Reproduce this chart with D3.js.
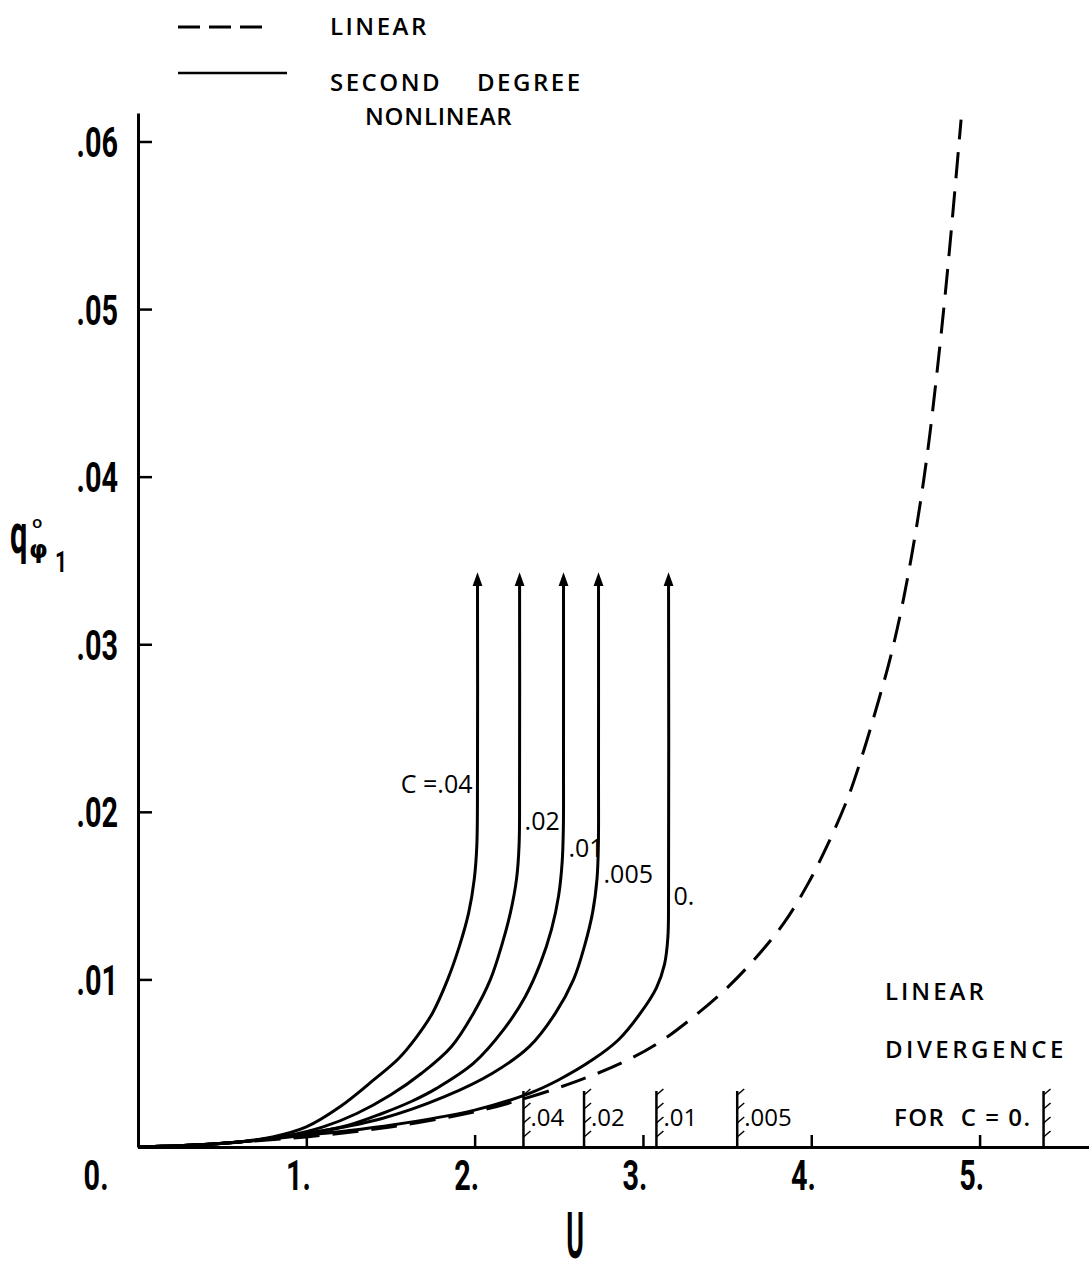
<!DOCTYPE html>
<html>
<head>
<meta charset="utf-8">
<script src="https://cdn.jsdelivr.net/npm/d3@7"></script>
<style>
  body { margin: 0; background: #fff; }
  svg { display: block; }
  text.pre { white-space: pre; }
</style>
</head>
<body>
<svg id="drawing_region"></svg>
<script>
// axis ticks
const tickU = [0, 1, 2, 3, 4, 5];
const tickQ = [0.01, 0.02, 0.03, 0.04, 0.05, 0.06];

// linear solution (dashed), [U, q]
const linearCurve = [
    [0, 0], [0.3, 0.0001], [0.6, 0.0003], [1.0, 0.0006], [1.5, 0.0012], [2.0, 0.0021],
    [2.3, 0.0029], [2.6, 0.0039], [2.87, 0.0050], [3.09, 0.0062], [3.28, 0.0076],
    [3.5, 0.0095], [3.68, 0.0114], [3.84, 0.0134], [3.98, 0.0157], [4.1, 0.0181],
    [4.22, 0.0209], [4.31, 0.0236], [4.39, 0.0263], [4.47, 0.0292], [4.55, 0.0328],
    [4.63, 0.0373], [4.69, 0.0414], [4.74, 0.0456], [4.79, 0.0503], [4.83, 0.0545],
    [4.89, 0.0613]
];

// second degree nonlinear solutions, one per damping C
const curveC04 = [
    [0, 0], [0.3, 0.0001], [0.6, 0.0003], [0.8, 0.0006], [1.0, 0.0012], [1.2, 0.0024],
    [1.4, 0.0040], [1.55, 0.0053], [1.65, 0.0065], [1.75, 0.0080], [1.84, 0.0100],
    [1.91, 0.0120], [1.965, 0.0140], [1.998, 0.0160], [2.013, 0.0180], [2.017, 0.0220],
    [2.017, 0.0340]
];
const curveC02 = [
    [0, 0], [0.3, 0.0001], [0.6, 0.0003], [0.9, 0.0007], [1.1, 0.0012], [1.3, 0.0020],
    [1.5, 0.0031], [1.685, 0.0044], [1.863, 0.0060], [1.994, 0.0080], [2.094, 0.0100],
    [2.16, 0.0120], [2.213, 0.0140], [2.249, 0.0160], [2.264, 0.0180], [2.267, 0.0220],
    [2.267, 0.0340]
];
const curveC01 = [
    [0, 0], [0.3, 0.0001], [0.6, 0.0003], [1.0, 0.0008], [1.25, 0.0013], [1.45, 0.0020],
    [1.62, 0.0027], [1.774, 0.0035], [1.994, 0.0050], [2.172, 0.0070], [2.302, 0.0090],
    [2.392, 0.0110], [2.457, 0.0130], [2.499, 0.0150], [2.52, 0.0170], [2.527, 0.0190],
    [2.528, 0.0230], [2.528, 0.0340]
];
const curveC005 = [
    [0, 0], [0.3, 0.0001], [0.6, 0.0003], [1.0, 0.0008], [1.45, 0.0017], [1.821, 0.0030],
    [2.106, 0.0044], [2.326, 0.0060], [2.481, 0.0080], [2.588, 0.0100], [2.653, 0.0120],
    [2.701, 0.0140], [2.727, 0.0160], [2.735, 0.0180], [2.736, 0.0220], [2.736, 0.0340]
];
const curveC0 = [
    [0, 0], [0.3, 0.0001], [0.6, 0.0003], [1.0, 0.0007], [1.5, 0.0013], [2.0, 0.0022],
    [2.325, 0.0032], [2.498, 0.0040], [2.7, 0.0052], [2.855, 0.0064], [2.986, 0.0080],
    [3.08, 0.0095], [3.128, 0.0109], [3.148, 0.0125], [3.152, 0.0150], [3.152, 0.0340]
];
const curveLabels = ["C =.04", ".02", ".01", ".005", "0."];

// linear divergence speeds
const divergenceU = [2.29, 2.65, 3.08, 3.56, 5.38];
const divergenceLabels = [".04", ".02", ".01", ".005", "FOR  C = 0."];

const nonlinearCurves = [curveC04, curveC02, curveC01, curveC005, curveC0];

var config = {
    parent: '#drawing_region',
    width: 1089,
    height: 1273,
    margin: {top: 113, right: 0, bottom: 126, left: 138}
};

class DivergencePlot {

    constructor( config ) {
        this.config = config;
        this.init();
    }

    init() {
        let self = this;

        self.svg = d3.select( self.config.parent )
            .attr('width', self.config.width)
            .attr('height', self.config.height);

        self.inner_width = self.config.width - self.config.margin.left - self.config.margin.right;
        self.inner_height = self.config.height - self.config.margin.top - self.config.margin.bottom;

        self.chart = self.svg.append('g')
            .attr('transform', `translate(${self.config.margin.left}, ${self.config.margin.top})`);

        self.xscale = d3.scaleLinear()
            .domain([0, 5.65])
            .range([0, self.inner_width]);

        self.yscale = d3.scaleLinear()
            .domain([0, 0.0617])
            .range([self.inner_height, 0]);

        self.line = d3.line()
            .x(d => self.xscale(d[0]))
            .y(d => self.yscale(d[1]))
            .curve(d3.curveCatmullRom.alpha(0.5));

        self.svg.append('defs').append('marker')
            .attr('id', 'arrow')
            .attr('viewBox', '0 -6 14 12')
            .attr('refX', 9)
            .attr('refY', 0)
            .attr('markerWidth', 14)
            .attr('markerHeight', 12)
            .attr('markerUnits', 'userSpaceOnUse')
            .attr('orient', 'auto')
            .append('path')
            .attr('d', 'M0,-5L14,0L0,5Z')
            .attr('fill', '#000');
    }

    render() {
        let self = this;
        const tickFont = "'Liberation Sans Narrow', Roboto, sans-serif";
        const textFont = "'Open Sans', 'DejaVu Sans', sans-serif";

        // axes
        self.xaxis = d3.axisBottom( self.xscale )
            .tickValues(tickU)
            .tickFormat(d => d + '.')
            .tickSize(-12)
            .tickSizeOuter(0);
        const xg = self.chart.append('g')
            .attr('transform', `translate(0, ${self.inner_height})`)
            .call( self.xaxis );

        self.yaxis = d3.axisLeft( self.yscale )
            .tickValues(tickQ)
            .tickFormat(d => d3.format('.2f')(d).replace(/^0/, ''))
            .tickSize(-14)
            .tickSizeOuter(0);
        const yg = self.chart.append('g')
            .call( self.yaxis );

        [xg, yg].forEach(g => {
            g.select('.domain').attr('stroke-width', 3);
            g.selectAll('.tick line').attr('stroke-width', 2.5);
            g.attr('font-family', tickFont).attr('font-size', 40).attr('font-weight', 'bold');
        });
        xg.selectAll('.tick text')
            .attr('y', 0).attr('dy', null)
            .attr('text-anchor', 'end')
            .attr('transform', d => `translate(${d === 0 ? -30 : 4}, 43) scale(0.72, 1.05)`);
        yg.selectAll('.tick text')
            .attr('x', 0).attr('dy', '0.36em')
            .attr('transform', 'translate(-20, 0) scale(0.72, 1.05)');

        // curves
        self.chart.append('path')
            .datum(linearCurve)
            .attr('d', self.line)
            .attr('fill', 'none')
            .attr('stroke', '#000')
            .attr('stroke-width', 3)
            .attr('stroke-dasharray', '26,13');

        self.chart.selectAll('.nl')
            .data(nonlinearCurves)
            .enter()
            .append('path')
            .attr('class', 'nl')
            .attr('d', self.line)
            .attr('fill', 'none')
            .attr('stroke', '#000')
            .attr('stroke-width', 3)
            .attr('marker-end', 'url(#arrow)');

        // curve labels
        self.chart.selectAll('.clabel')
            .data(nonlinearCurves)
            .enter()
            .append('text')
            .attr('class', 'clabel pre')
            .attr('x', (d, i) => self.xscale(d[d.length - 1][0]) + (i === 0 ? -5 : 5))
            .attr('y', (d, i) => [680, 717, 744, 770, 792][i])
            .attr('text-anchor', (d, i) => i === 0 ? 'end' : 'start')
            .attr('font-family', textFont)
            .attr('font-size', 25)
            .text((d, i) => curveLabels[i]);

        // divergence markers
        const hatch = self.chart.selectAll('.hatch')
            .data(divergenceU)
            .enter()
            .append('g')
            .attr('class', 'hatch')
            .attr('transform', d => `translate(${self.xscale(d)}, ${self.inner_height})`);
        hatch.append('line')
            .attr('y1', 0).attr('y2', -56)
            .attr('stroke', '#000').attr('stroke-width', 2.5);
        [-52, -38, -24, -10].forEach(y => {
            hatch.append('line')
                .attr('x1', 0).attr('y1', y)
                .attr('x2', 7).attr('y2', y - 6)
                .attr('stroke', '#000').attr('stroke-width', 1.5);
        });
        hatch.append('text')
            .attr('class', 'pre')
            .attr('x', (d, i) => i === 4 ? -12 : 7)
            .attr('y', -21)
            .attr('text-anchor', (d, i) => i === 4 ? 'end' : 'start')
            .attr('font-family', textFont)
            .attr('font-size', 24)
            .attr('font-weight', (d, i) => i === 4 ? 600 : 400)
            .attr('letter-spacing', (d, i) => i === 4 ? 1.5 : 0)
            .text((d, i) => divergenceLabels[i]);

        const capText = (x, y, s, spacing) => self.svg.append('text')
            .attr('class', 'pre')
            .attr('x', x).attr('y', y)
            .attr('font-family', textFont).attr('font-size', 24).attr('font-weight', 600)
            .attr('letter-spacing', spacing)
            .text(s);

        capText(885, 1000, 'LINEAR', 3);
        capText(885, 1058, 'DIVERGENCE', 3.5);

        // legend
        self.svg.append('line')
            .attr('x1', 178).attr('x2', 262).attr('y1', 27).attr('y2', 27)
            .attr('stroke', '#000').attr('stroke-width', 3)
            .attr('stroke-dasharray', '22,9');
        self.svg.append('line')
            .attr('x1', 178).attr('x2', 287).attr('y1', 73).attr('y2', 73)
            .attr('stroke', '#000').attr('stroke-width', 2.5);
        capText(330, 35, 'LINEAR', 2.5);
        capText(330, 91, 'SECOND    DEGREE', 2.5);
        capText(365, 125, 'NONLINEAR', 0.8);

        // axis titles
        const ylab = self.svg.append('g')
            .attr('font-family', tickFont)
            .attr('font-weight', 'bold');
        ylab.append('text')
            .attr('transform', 'translate(10, 553) scale(0.55, 1)')
            .attr('font-size', 56)
            .text('q');
        ylab.append('text')
            .attr('x', 32).attr('y', 528)
            .attr('font-family', textFont).attr('font-weight', 600)
            .attr('font-size', 17)
            .text('o');
        ylab.append('text')
            .attr('x', 29).attr('y', 558)
            .attr('font-family', "'DejaVu Sans', sans-serif")
            .attr('font-size', 24)
            .text('φ');
        ylab.append('text')
            .attr('transform', 'translate(55, 572) scale(0.7, 1)')
            .attr('font-size', 30)
            .text('1');

        self.svg.append('text')
            .attr('transform', 'translate(575, 1258) scale(0.48, 1.15)')
            .attr('text-anchor', 'middle')
            .attr('font-family', tickFont)
            .attr('font-weight', 'bold')
            .attr('font-size', 56)
            .text('U');
    }
}

const plot = new DivergencePlot( config );
plot.render();
</script>
</body>
</html>
